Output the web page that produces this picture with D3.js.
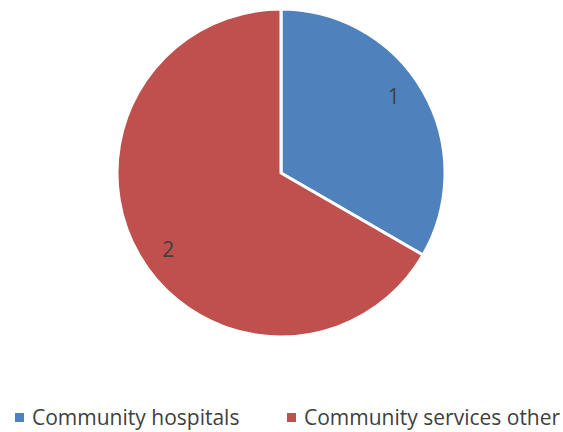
<!DOCTYPE html>
<html>
<head>
<meta charset="utf-8">
<script src="https://cdn.jsdelivr.net/npm/d3@7"></script>
<style>
  html, body { margin: 0; padding: 0; background: #fff; }
  svg { display: block; }
  text { font-family: "Open Sans", "Noto Sans", sans-serif; }
</style>
</head>
<body>
<svg id="chart" width="563" height="432"></svg>
<script>
const categories = ["Community hospitals", "Community services other"];
const values = [1, 2];
const colors = ["#4F81BD", "#C0504D"];

const width = 563, height = 432;
const cx = 281, cy = 173, radius = 164;

const svg = d3.select("#chart");

const pie = d3.pie().sort(null).value(d => d.value);
const arcs = pie(categories.map((c, i) => ({ name: c, value: values[i] })));

const arc = d3.arc().innerRadius(0).outerRadius(radius);

// data labels sit slightly counter-clockwise of each slice's mid-angle
const labelRadius = 136;
const labelShift = 0.07;
function labelPos(d) {
  const a = (d.startAngle + d.endAngle) / 2 - labelShift;
  return [labelRadius * Math.sin(a), -labelRadius * Math.cos(a)];
}

const color = d3.scaleOrdinal().domain(categories).range(colors);

const g = svg.append("g").attr("transform", `translate(${cx},${cy})`);

g.selectAll("path.slice")
  .data(arcs)
  .join("path")
  .attr("class", "slice")
  .attr("d", arc)
  .attr("fill", d => color(d.data.name))
  .attr("stroke", "#fff")
  .attr("stroke-width", 3)
  .attr("stroke-linejoin", "round");

g.selectAll("text.value")
  .data(arcs)
  .join("text")
  .attr("class", "value")
  .attr("transform", d => `translate(${labelPos(d)})`)
  .attr("text-anchor", "middle")
  .attr("dy", "0.36em")
  .attr("font-size", 21)
  .attr("fill", "#404040")
  .text(d => d.data.value);

// Legend
const legendX = [15, 287];
const legend = svg.append("g").attr("transform", "translate(0,425)");
const items = legend.selectAll("g.item")
  .data(categories)
  .join("g")
  .attr("class", "item")
  .attr("transform", (d, i) => `translate(${legendX[i]},0)`);

items.append("rect")
  .attr("x", 0).attr("y", -12)
  .attr("width", 9).attr("height", 9)
  .attr("fill", d => color(d));

items.append("text")
  .attr("x", 17)
  .attr("font-size", 21)
  .attr("fill", "#404040")
  .text(d => d);
</script>
</body>
</html>
